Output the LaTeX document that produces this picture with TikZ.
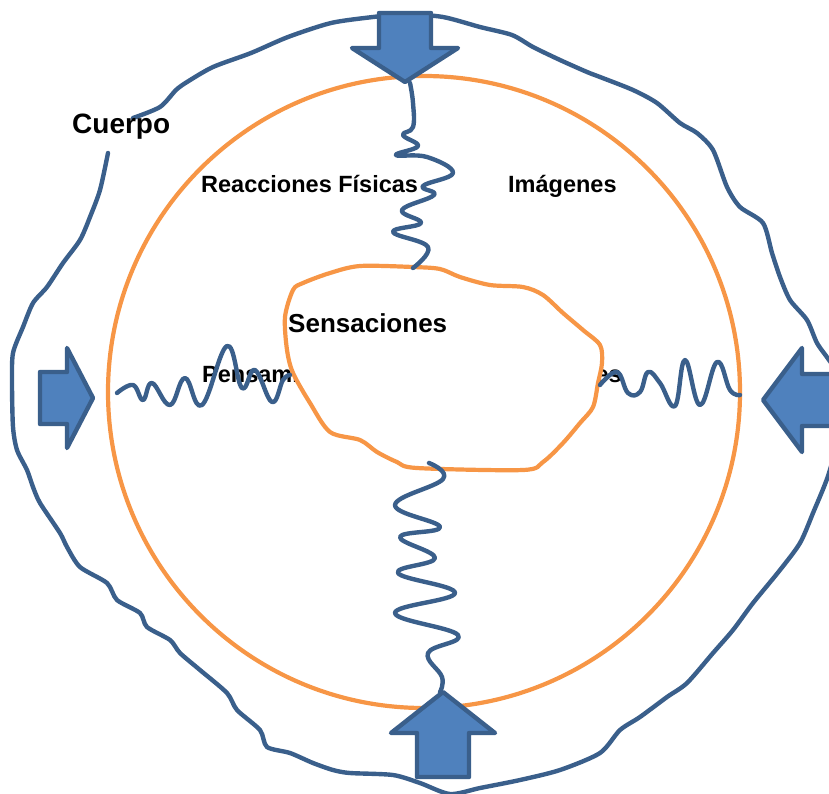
\documentclass[tikz,border=0pt]{standalone}
\usepackage{fontspec}
\setmainfont{Liberation Sans}
\usepackage{tikz}
\definecolor{lineblue}{HTML}{3A5F8B}
\definecolor{fillblue}{HTML}{4F81BD}
\definecolor{ringorange}{HTML}{F79646}
\tikzstyle{wire}=[draw=lineblue, line width=4.4pt, line join=round, line cap=round]
\tikzstyle{ring}=[draw=ringorange, line width=4.2pt, line join=round]
\tikzstyle{word}=[inner sep=0pt, font=\bfseries\fontsize{23.5}{26}\selectfont]
\newcommand{\blockArrow}[5]{
	\draw[line width=4.4pt, draw=lineblue, fill=fillblue, line join=round, shift={#2}, rotate=#1]
		(0,0) -- (-#3,#4) -- (-#3,26) -- (-#3-#5,26) -- (-#3-#5,-26) -- (-#3,-26) -- (-#3,-#4) -- cycle;
}

\begin{document}
\begin{tikzpicture}[x=1pt, y=-1pt]
	\useasboundingbox (0,0) rectangle (829,793);
	\clip (0,0) rectangle (829,793);
	\draw[wire] plot[smooth, tension=0.45] coordinates {(108,153) (100,190) (90,217) (80,240) (63,263) (47,287) (33,303) (23,327) (13,353) (12,383) (13,427) (17,450) (27,470) (33,487) (40,503) (60,533) (67,547) (80,567) (107,583) (117,600) (140,613) (147,627) (170,640) (180,653) (200,670) (227,693) (237,710) (260,730) (267,747) (290,753) (313,763) (333,770) (350,773) (393,775) (420,783) (450,794) (480,788) (520,780) (560,770) (600,753) (620,730) (640,717) (667,697) (687,683) (713,653) (733,630) (753,603) (780,570) (800,543) (813,513) (829,473) (842,420) (842,380) (829,360) (817,343) (807,320) (790,300) (780,277) (772,253) (763,223) (740,207) (727,187) (713,150) (697,133) (680,123) (657,103) (633,90) (600,77) (587,72) (560,60) (533,47) (512,35) (480,27) (443,17) (405,14) (373,17) (331,23) (288,37) (251,53) (213,67) (187,82) (176,90) (160,107) (133,118)};
	\draw[ring] (424,392) circle (316);
	\node[word, anchor=base west, font=\bfseries\fontsize{28}{30}\selectfont] (cuerpo) at (72,133) {Cuerpo};
	\node[word, anchor=base west] (reacciones) at (201,192) {Reacciones Físicas};
	\node[word, anchor=base west] (imagenes) at (508,192) {Imágenes};
	\node[word, anchor=base west] (pensamientos) at (202,382) {Pensamientos};
	\node[word, anchor=base east] (emociones) at (622,382) {Emociones};
	\draw[ring, fill=white] plot[smooth cycle, tension=0.5] coordinates {(293,290) (303,283) (330,273) (360,266) (413,267) (440,269) (460,277) (490,285) (523,287) (543,295) (563,313) (583,330) (600,345) (602,363) (598,383) (593,407) (580,423) (563,443) (543,462) (523,470) (417,468) (397,462) (377,452) (360,440) (330,432) (310,403) (293,373) (287,350) (285,317)};
	\node[word, anchor=base west, font=\bfseries\fontsize{26}{28}\selectfont] (sensaciones) at (288,332) {Sensaciones};
	\draw[wire] plot[smooth, tension=0.7] coordinates {(410,83) (413,103) (413,127) (403,135) (418,146) (396,155) (427,157) (453,173) (423,186) (434,195) (402,210) (421,223) (393,232) (428,247) (413,268)};
	\draw[wire] plot[smooth, tension=0.7] coordinates {(429,463) (443,479) (395,505) (440,527) (400,537) (435,558) (398,573) (455,593) (395,613) (458,635) (428,653) (442,677) (440,692)};
	\draw[wire] plot[smooth, tension=0.7] coordinates {(117,393) (133,385) (143,400) (152,383) (170,405) (185,378) (202,405) (227,346) (242,388) (255,370) (272,402) (283,380) (290,375)};
	\draw[wire] plot[smooth, tension=0.7] coordinates {(600,385) (617,372) (628,393) (640,392) (648,372) (660,383) (675,406) (685,360) (700,405) (717,362) (730,390) (740,395)};
	\blockArrow{-90}{(405,82)}{34}{53}{35}
	\blockArrow{90}{(443,692)}{41}{52}{44}
	\blockArrow{0}{(93,398)}{26}{50}{27}
	\blockArrow{180}{(763,400)}{39}{52}{60}
\end{tikzpicture}
\end{document}
